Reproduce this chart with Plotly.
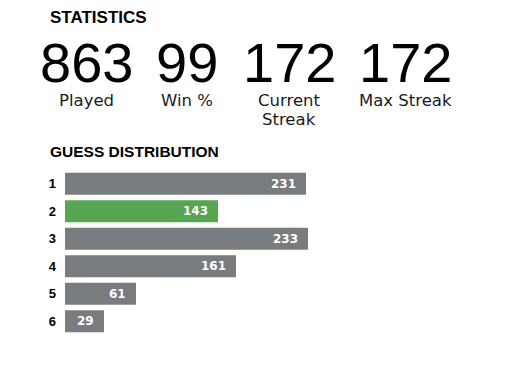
import plotly.graph_objects as go

# ---- data ----
STAT_VALUES = ["863", "99", "172", "172"]
STAT_LABELS = ["Played", "Win %", "Current\nStreak", "Max Streak"]
GUESSES = [1, 2, 3, 4, 5, 6]
GUESS_LABELS = ["1", "2", "3", "4", "5", "6"]
COUNTS = [231, 143, 233, 161, 61, 29]
HIGHLIGHT = 2

# ---- style / layout ----
W, H = 508, 366
L, R, T, B = 65, 43, 170, 31
PW = W - L - R
PH = H - T - B
PAD = 10  # min bar padding (px == units, 1 px per unit)
GRAY = "#787c7e"
GREEN = "#57a551"
INK = "#1a1a1b"
STAT_CENTERS = [86, 187, 289, 405]


def px(x):
    return (x - L) / PW


def py(y):
    return (H - B - y) / PH


colors = [GREEN if g == HIGHLIGHT else GRAY for g in GUESSES]

fig = go.Figure(
    go.Bar(
        y=GUESSES,
        x=[c + PAD for c in COUNTS],
        base=[-PAD] * len(COUNTS),
        orientation="h",
        marker=dict(color=colors, line=dict(width=0)),
        hoverinfo="skip",
    )
)

ann = []
# value labels inside bars
for g, c in zip(GUESSES, COUNTS):
    ann.append(dict(x=c, y=g, xref="x", yref="y", text=str(c), showarrow=False,
                    xanchor="right", yanchor="middle", xshift=-8,
                    font=dict(family="DejaVu Sans", size=12, color="white", weight="bold")))

# headers
ann.append(dict(x=px(48), y=py(6), xref="paper", yref="paper", text="STATISTICS",
                showarrow=False, xanchor="left", yanchor="top",
                font=dict(family="Liberation Sans", size=17, color="black", weight="bold")))
ann.append(dict(x=px(48), y=py(141), xref="paper", yref="paper", text="GUESS DISTRIBUTION",
                showarrow=False, xanchor="left", yanchor="top",
                font=dict(family="Liberation Sans", size=15.5, color="black", weight="bold")))

# stats
for cx, v, lab in zip(STAT_CENTERS, STAT_VALUES, STAT_LABELS):
    ann.append(dict(x=px(cx), y=py(62), xref="paper", yref="paper", text=v,
                    showarrow=False, xanchor="center", yanchor="middle",
                    font=dict(family="Liberation Sans", size=56, color="black")))
    for i, line in enumerate(lab.split("\n")):
        ann.append(dict(x=px(cx), y=py(89 + 19 * i), xref="paper", yref="paper", text=line,
                        showarrow=False, xanchor="center", yanchor="top",
                        font=dict(family="DejaVu Sans", size=16.5, color=INK)))

fig.update_layout(
    width=W, height=H,
    margin=dict(l=L, r=R, t=T, b=B, autoexpand=False),
    paper_bgcolor="white", plot_bgcolor="white",
    showlegend=False,
    bargap=0.2,
    annotations=ann,
    xaxis=dict(range=[-PAD, PW - PAD], visible=False, fixedrange=True),
    yaxis=dict(range=[6.5, 0.5], tickmode="array", tickvals=GUESSES, ticktext=GUESS_LABELS,
               showgrid=False, showline=False, zeroline=False,
               ticks="", ticklabelstandoff=8,
               tickfont=dict(family="Liberation Sans", size=13, color="black", weight="bold"),
               fixedrange=True),
)

fig.write_html("out.html", config={"displayModeBar": False},
               post_script="document.body.style.margin='0';")
